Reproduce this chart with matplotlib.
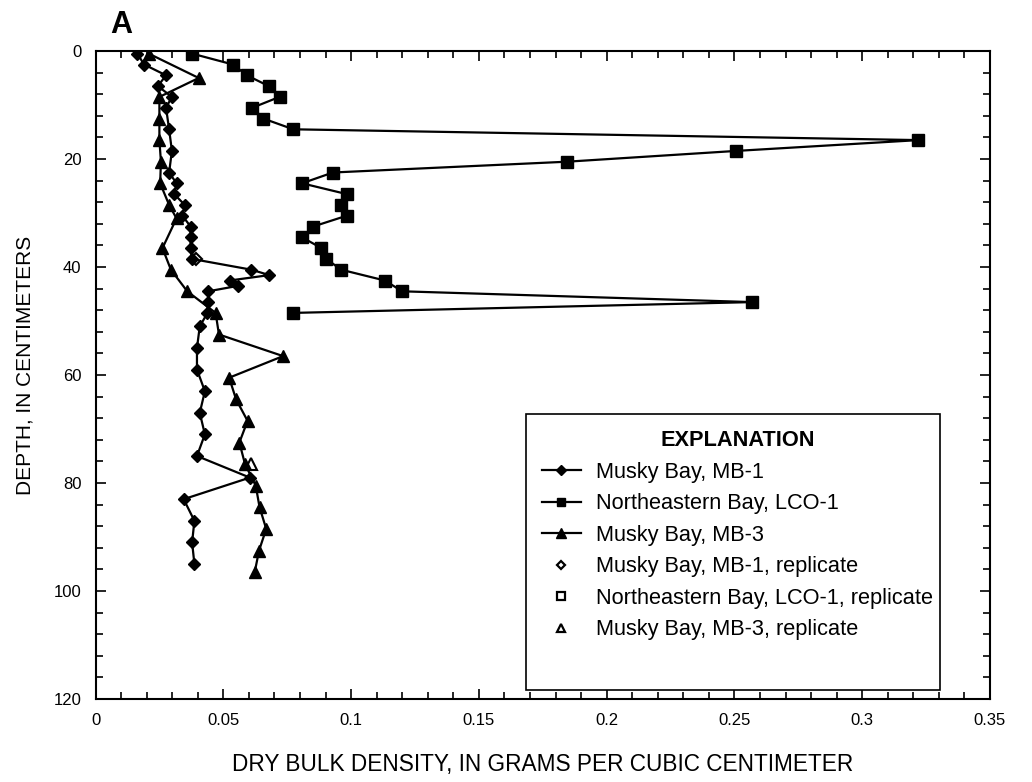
import numpy as np
import matplotlib
matplotlib.use('Agg')
import matplotlib.pyplot as plt
from matplotlib.ticker import MultipleLocator
from matplotlib.patches import Rectangle

plt.rcParams['font.family'] = ['Liberation Sans', 'DejaVu Sans']

# Musky Bay, MB-1 (filled diamonds)
mb1_depth = [0.5, 2.5, 4.5, 6.5, 8.5, 10.5, 14.5, 18.5, 22.5, 24.5, 26.5, 28.5,
             30.5, 32.5, 34.5, 36.5, 38.5, 40.5, 41.5, 42.5, 43.5, 44.5, 46.5,
             48.5, 51, 55, 59, 63, 67, 71, 75, 79, 83, 87, 91, 95]
mb1_dens = [0.0164, 0.019, 0.0276, 0.0244, 0.0299, 0.0276, 0.0288, 0.0299,
            0.0288, 0.0317, 0.0308, 0.0349, 0.034, 0.0372, 0.0372, 0.0372,
            0.0377, 0.061, 0.068, 0.0525, 0.0557, 0.0441, 0.0441, 0.0438,
            0.0408, 0.0397, 0.0397, 0.0428, 0.0408, 0.0428, 0.0397, 0.0604,
            0.0345, 0.0387, 0.0378, 0.0387]

# Northeastern Bay, LCO-1 (filled squares)
lco1_depth = [0.5, 2.5, 4.5, 6.5, 8.5, 10.5, 12.5, 14.5, 16.5, 18.5, 20.5,
              22.5, 24.5, 26.5, 28.5, 30.5, 32.5, 34.5, 36.5, 38.5, 40.5,
              42.5, 44.5, 46.5, 48.5]
lco1_dens = [0.0379, 0.0538, 0.0592, 0.0678, 0.072, 0.0614, 0.0656, 0.0774,
             0.322, 0.2508, 0.1845, 0.0929, 0.0808, 0.0983, 0.0961, 0.0983,
             0.0852, 0.0808, 0.0884, 0.0903, 0.0961, 0.1132, 0.12, 0.257,
             0.0774]

# Musky Bay, MB-3 (filled triangles)
mb3_depth = [0.5, 5, 8.5, 12.5, 16.5, 20.5, 24.5, 28.5, 31, 36.5, 40.5, 44.5,
             48.5, 52.5, 56.5, 60.5, 64.5, 68.5, 72.5, 76.5, 80.5, 84.5, 88.5,
             92.5, 96.5]
mb3_dens = [0.0209, 0.0404, 0.025, 0.025, 0.025, 0.0256, 0.0253, 0.0288,
            0.0317, 0.0262, 0.0295, 0.0359, 0.047, 0.0483, 0.0734, 0.0523,
            0.055, 0.0595, 0.0563, 0.0585, 0.0627, 0.0642, 0.0668, 0.064,
            0.0623]

# replicates (open symbols)
mb1_rep_depth = [38.5]
mb1_rep_dens = [0.0395]
lco1_rep_depth = [36.5]
lco1_rep_dens = [0.0884]
mb3_rep_depth = [76.5]
mb3_rep_dens = [0.0607]

W, H = 1032, 782
L, R, T, B = 95.5, 990, 51, 699   # axes box in pixels
fig = plt.figure(figsize=(W / 100, H / 100), dpi=100)
ax = fig.add_axes([L / W, 1 - B / H, (R - L) / W, (B - T) / H])

ax.plot(mb1_rep_dens, mb1_rep_depth, 'D', ms=6, mfc='white', mec='black',
        mew=1.5, ls='none', zorder=2)
ax.plot(lco1_rep_dens, lco1_rep_depth, 's', ms=7.5, mfc='white', mec='black',
        mew=1.5, ls='none', zorder=2)
ax.plot(mb3_rep_dens, mb3_rep_depth, '^', ms=8, mfc='white', mec='black',
        mew=1.5, ls='none', zorder=2)

l1, = ax.plot(mb1_dens, mb1_depth, '-D', color='black', lw=1.6, ms=6.5, zorder=3)
l2, = ax.plot(lco1_dens, lco1_depth, '-s', color='black', lw=1.6, ms=8.5, zorder=3)
l3, = ax.plot(mb3_dens, mb3_depth, '-^', color='black', lw=1.6, ms=9, zorder=3)

ax.set_xlim(0, 0.35)
ax.set_ylim(120, 0)
ax.xaxis.set_minor_locator(MultipleLocator(0.01))
ax.yaxis.set_major_locator(MultipleLocator(20))
ax.yaxis.set_minor_locator(MultipleLocator(4))
ax.set_xticks(np.arange(0, 0.351, 0.05))
ax.set_xticklabels(['0', '0.05', '0.1', '0.15', '0.2', '0.25', '0.3', '0.35'])
ax.tick_params(which='both', direction='in', top=True, right=True,
               labelsize=12, width=1.2)
ax.tick_params(which='major', length=7, pad=10)
ax.tick_params(which='minor', length=5)
for s in ax.spines.values():
    s.set_linewidth(1.5)

ax.set_xlabel('DRY BULK DENSITY, IN GRAMS PER CUBIC CENTIMETER', fontsize=16.3,
              labelpad=18)
ax.set_ylabel('DEPTH, IN CENTIMETERS', fontsize=15)
ax.yaxis.set_label_coords(-0.068, 0.515)

# explanation box
bx0 = (526 - L) / (R - L)
bx1 = (940 - L) / (R - L)
by0 = (B - 690) / (B - T)
by1 = (B - 414) / (B - T)
ax.add_patch(Rectangle((bx0, by0), bx1 - bx0, by1 - by0, transform=ax.transAxes,
                       facecolor='white', edgecolor='black', lw=1.2, zorder=4))

h4, = ax.plot([], [], 'D', ms=6, mfc='white', mec='black', mew=1.6, ls='none')
h5, = ax.plot([], [], 's', ms=7, mfc='white', mec='black', mew=1.6, ls='none')
h6, = ax.plot([], [], '^', ms=8, mfc='white', mec='black', mew=1.6, ls='none')
handles = [l1, l2, l3, h4, h5, h6]
labels = ['Musky Bay, MB-1', 'Northeastern Bay, LCO-1', 'Musky Bay, MB-3',
          'Musky Bay, MB-1, replicate', 'Northeastern Bay, LCO-1, replicate',
          'Musky Bay, MB-3, replicate']
leg = ax.legend(handles, labels, loc='upper left', bbox_to_anchor=(bx0, by1),
                borderaxespad=0, title='EXPLANATION', fontsize=15.7,
                title_fontproperties={'weight': 'bold', 'size': 15.7},
                frameon=False, markerscale=0.75,
                handlelength=1.75, handletextpad=0.7, labelspacing=0.48,
                borderpad=0.75)
leg.set_zorder(5)

fig.text(110 / W, 1 - 33 / H, 'A', fontsize=22, fontweight='bold', va='baseline')

fig.savefig('out.png', dpi=100)
